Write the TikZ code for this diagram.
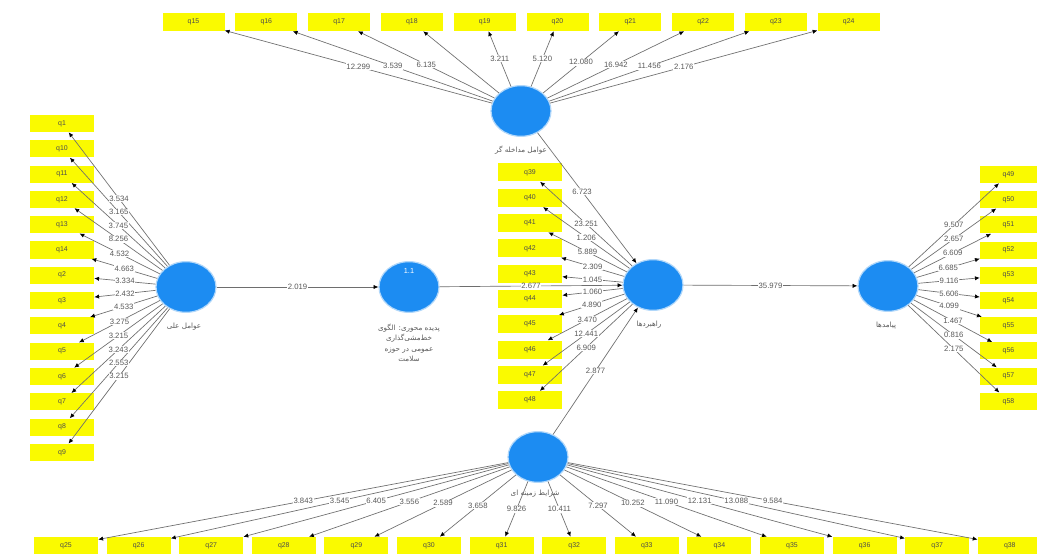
\documentclass[tikz,border=0pt]{standalone}
\usepackage{fontspec}
\setmainfont{Liberation Sans}
\newfontfamily\fa[Script=Arabic]{DejaVu Sans}
\TeXXeTstate=1
\usetikzlibrary{shapes.geometric,arrows.meta}

\definecolor{lvblue}{RGB}{28,140,242}
\definecolor{indyel}{RGB}{250,250,0}
\definecolor{pathgray}{RGB}{110,110,110}

\tikzset{
  latent/.style={ellipse, fill=lvblue, draw=lvblue!35, line width=0.9pt,
    minimum width=45pt, minimum height=38pt, inner sep=0pt},
  ind/.style={rectangle, fill=indyel, minimum width=48pt, minimum height=13pt,
    inner sep=0pt, font=\fontsize{5.2}{6}\selectfont, text=black!70},
  load/.style={draw=pathgray, line width=0.5pt,
    -{Latex[length=3.6pt,width=3.2pt,color=black]}},
  coef/.style={fill=white, inner sep=0.5pt, font=\fontsize{5.8}{6.5}\selectfont, text=black!65},
  falbl/.style={font=\fa\fontsize{5.4}{7.9}\selectfont, text=black!65, align=center, inner sep=0pt},
}

% path coefficients (t-values) for each indicator block
\def\interlabels{15/12.299,16/3.539,17/6.135,19/3.211,20/5.120,21/12.080,22/16.942,23/11.456,24/2.176}
\def\causelabels{1/3.534,10/3.165,11/3.745,12/8.256,13/4.532,14/4.663,2/3.334,3/2.432,4/4.533,5/3.275,6/3.215,7/3.243,8/2.553,9/3.215}
\def\stratlabels{39/23.251,40/1.206,41/5.889,42/2.309,43/1.045,44/1.060,45/4.890,46/3.470,47/12.441,48/6.909}
\def\conslabels{49/9.507,50/2.657,51/6.609,52/6.685,53/9.116,54/5.606,55/4.099,56/1.467,57/0.816,58/2.175}
\def\contextlabels{25/3.843,26/3.545,27/6.405,28/3.556,29/2.589,30/3.658,31/9.826,32/10.411,33/7.297,34/10.252,35/11.090,36/12.131,37/13.088,38/9.584}

\begin{document}
\begin{tikzpicture}[x=0.75pt,y=-0.75pt]
\path[use as bounding box, fill=white] (0,0) rectangle (1037,555);

% latent constructs
\node[latent] (cause)   at (186,287) {};
\node[latent] (core)    at (409,287) {};
\node[latent] (strat)   at (653,285) {};
\node[latent] (cons)    at (888,286) {};
\node[latent] (interv)  at (521,111) {};
\node[latent] (context) at (538,457) {};
\node[font=\fontsize{5.5}{6}\selectfont, text=white] (core-r) at (409,271) {1.1};

% indicators
\foreach \q [count=\i from 0] in {15,...,24}
  \node[ind, minimum width=46.5pt, minimum height=13.5pt] (q\q) at ({193.5+72.8*\i},22) {q\q};
\foreach \q [count=\i from 0] in {1,10,11,12,13,14,2,3,4,5,6,7,8,9}
  \node[ind, minimum height=12.8pt] (q\q) at (62,{123.5+25.3*\i}) {q\q};
\foreach \q [count=\i from 0] in {39,...,48}
  \node[ind, minimum height=13.5pt] (q\q) at (530,{172.5+25.3*\i}) {q\q};
\foreach \q [count=\i from 0] in {49,...,58}
  \node[ind, minimum width=42.75pt, minimum height=12.8pt] (q\q) at (1008.5,{174.5+25.2*\i}) {q\q};
\foreach \q [count=\i from 0] in {25,...,38}
  \node[ind, minimum height=12.8pt] (q\q) at ({66+72.6*\i},545.5) {q\q};

% outer loadings
\foreach \q in {15,...,24} \draw[load] (interv) -- (q\q);
\foreach \q in {1,10,11,12,13,14,2,3,4,5,6,7,8,9} \draw[load] (cause) -- (q\q);
\foreach \q in {39,...,48} \draw[load] (strat) -- (q\q);
\foreach \q in {49,...,58} \draw[load] (cons) -- (q\q);
\foreach \q in {25,...,38} \draw[load] (context) -- (q\q);

% structural paths
\draw[load] (cause) -- (core);
\draw[load] (core) -- (strat);
\draw[load] (interv) -- (strat);
\draw[load] (context) -- (strat);
\draw[load] (strat) -- (cons);

% coefficient labels
\foreach \q/\v in \interlabels  \path (interv) -- node[coef]{\v} (q\q);
\foreach \q/\v in \causelabels  \path (cause) -- node[coef]{\v} (q\q);
\foreach \q/\v in \stratlabels  \path (strat) -- node[coef]{\v} (q\q);
\foreach \q/\v in \conslabels   \path (cons) -- node[coef]{\v} (q\q);
\foreach \q/\v in \contextlabels \path (context) -- node[coef]{\v} (q\q);
\path (cause) -- node[coef]{2.019} (core);
\path (core) -- node[coef]{2.677} (strat);
\path (interv) -- node[coef, pos=0.45]{6.723} (strat);
\path (context) -- node[coef, pos=0.5]{2.877} (strat);
\path (strat) -- node[coef]{35.979} (cons);

% construct names
\node[falbl] (interv-l)  at (521,150) {\beginR عوامل مداخله گر\endR};
\node[falbl] (cause-l)   at (184,327) {\beginR عوامل علی\endR};
\node[falbl] (core-l)    at (409,343) {\beginR پدیده محوری: الگوی\endR\\\beginR خط‌مشی‌گذاری\endR\\\beginR عمومی در حوزه\endR\\\beginR سلامت\endR};
\node[falbl] (strat-l)   at (649,325) {\beginR راهبردها\endR};
\node[falbl] (cons-l)    at (886,326) {\beginR پیامدها\endR};
\node[falbl] (context-l) at (535,494) {\beginR شرایط زمینه ای\endR};
\end{tikzpicture}
\end{document}
